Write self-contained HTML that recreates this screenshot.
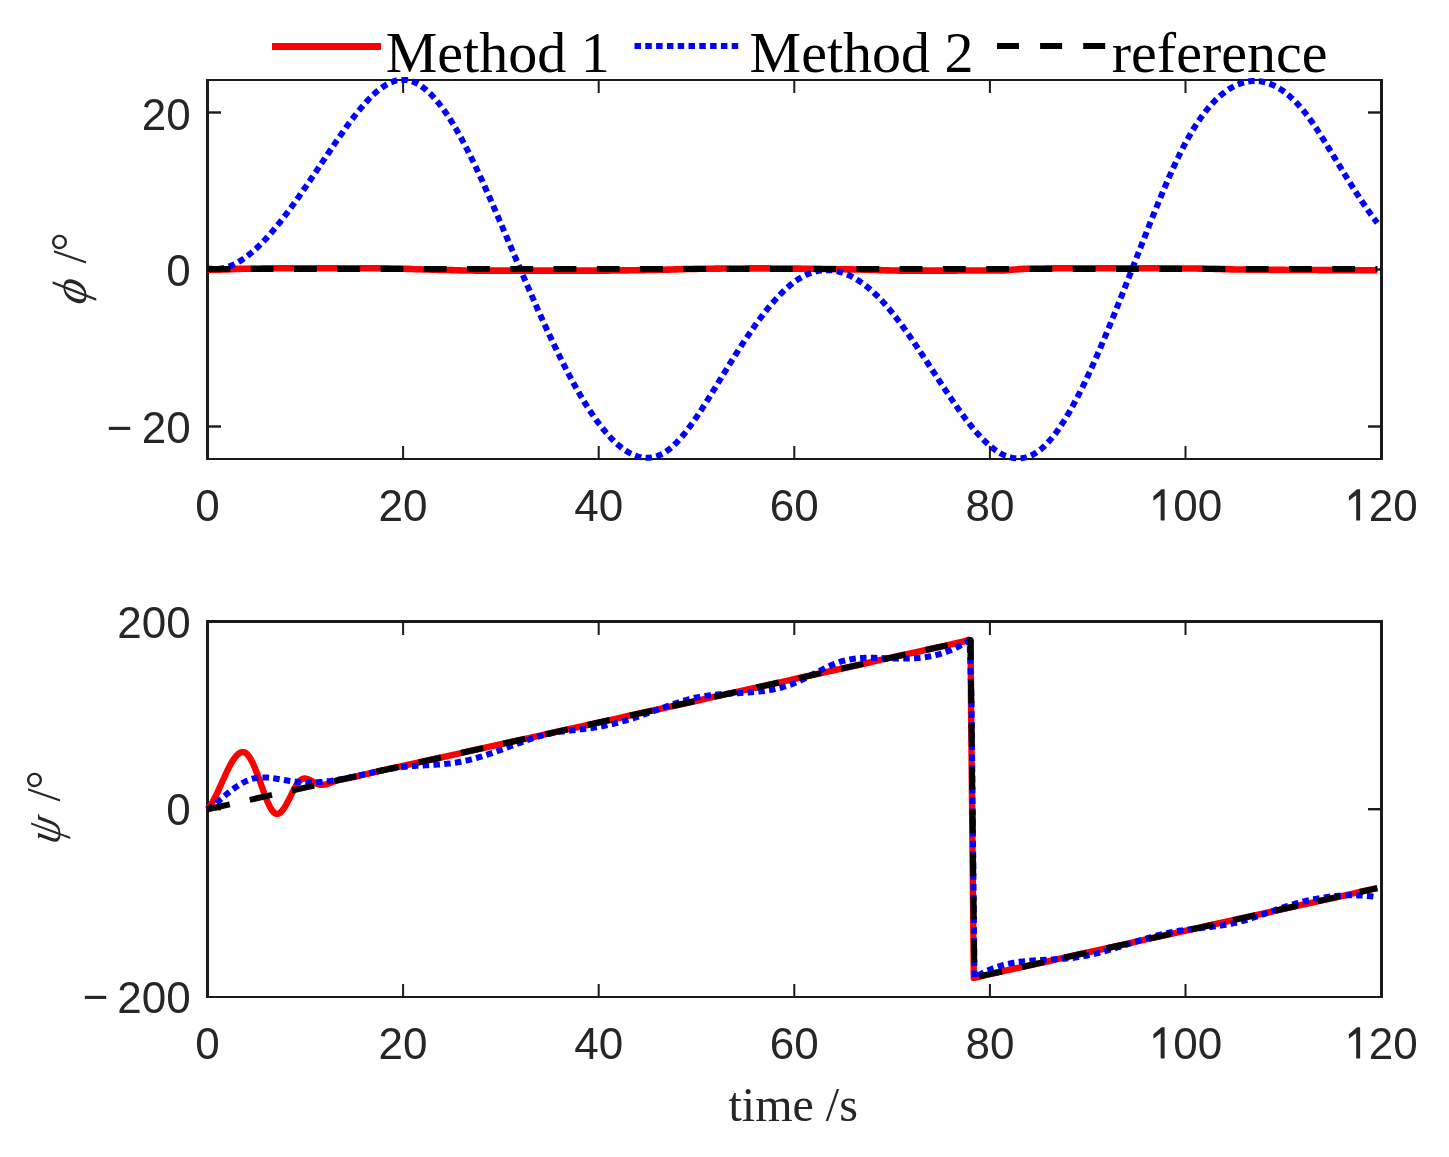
<!DOCTYPE html>
<html><head><meta charset="utf-8"><title>plot</title>
<style>
html,body{margin:0;padding:0;background:#ffffff;}
body{width:1449px;height:1157px;overflow:hidden;position:relative;}
svg{position:absolute;left:0;top:0;display:block;will-change:transform;}
.tk{font-family:"Liberation Sans",sans-serif;font-size:44px;fill:#262626;}
.lg{font-family:"Liberation Serif",serif;font-size:58px;fill:#000000;}
.lb{font-family:"Liberation Serif",serif;font-size:48px;fill:#262626;}
</style></head>
<body>
<svg width="1449" height="1157" viewBox="0 0 1449 1157">
<rect x="0" y="0" width="1449" height="1157" fill="#ffffff"/>
<defs>
<clipPath id="c1"><rect x="203" y="76" width="1183" height="387"/></clipPath>
<clipPath id="c2"><rect x="203" y="617" width="1183" height="384"/></clipPath>
</defs>

<!-- ===== TOP AXES FRAME ===== -->
<g fill="#1a1a1a">
<rect x="206" y="79" width="3" height="381"/>
<rect x="1380" y="79" width="3" height="381"/>
<rect x="206" y="79" width="1177" height="2"/>
<rect x="206" y="458" width="1177" height="2"/>
<!-- x ticks bottom -->
<rect x="402.1" y="446" width="2" height="12"/>
<rect x="597.7" y="446" width="2" height="12"/>
<rect x="793.3" y="446" width="2" height="12"/>
<rect x="988.9" y="446" width="2" height="12"/>
<rect x="1184.5" y="446" width="2" height="12"/>
<!-- x ticks top -->
<rect x="402.1" y="81" width="2" height="12"/>
<rect x="597.7" y="81" width="2" height="12"/>
<rect x="793.3" y="81" width="2" height="12"/>
<rect x="988.9" y="81" width="2" height="12"/>
<rect x="1184.5" y="81" width="2" height="12"/>
<!-- y ticks left -->
<rect x="209" y="111.3" width="12" height="2.4"/>
<rect x="209" y="268.3" width="12" height="2.4"/>
<rect x="209" y="425.3" width="12" height="2.4"/>
<!-- y ticks right -->
<rect x="1368" y="111.3" width="12" height="2.4"/>
<rect x="1368" y="268.3" width="12" height="2.4"/>
<rect x="1368" y="425.3" width="12" height="2.4"/>
</g>

<!-- ===== BOTTOM AXES FRAME ===== -->
<g fill="#1a1a1a">
<rect x="206" y="620" width="3" height="378"/>
<rect x="1380" y="620" width="3" height="378"/>
<rect x="206" y="620" width="1177" height="3"/>
<rect x="206" y="996" width="1177" height="2"/>
<rect x="402.1" y="984" width="2" height="12"/>
<rect x="597.7" y="984" width="2" height="12"/>
<rect x="793.3" y="984" width="2" height="12"/>
<rect x="988.9" y="984" width="2" height="12"/>
<rect x="1184.5" y="984" width="2" height="12"/>
<rect x="402.1" y="623" width="2" height="12"/>
<rect x="597.7" y="623" width="2" height="12"/>
<rect x="793.3" y="623" width="2" height="12"/>
<rect x="988.9" y="623" width="2" height="12"/>
<rect x="1184.5" y="623" width="2" height="12"/>
<rect x="209" y="808" width="12" height="2.4"/>
<rect x="1368" y="808" width="12" height="2.4"/>
</g>

<!-- ===== TOP AXES DATA ===== -->
<g clip-path="url(#c1)" fill="none" stroke-linejoin="round">
<path d="M207.50,269.80 L211.50,269.77 L215.50,269.71 L219.50,269.63 L223.50,269.54 L227.50,269.42 L231.50,269.25 L235.50,269.06 L239.50,268.91 L243.50,268.81 L247.50,268.71 L251.50,268.61 L255.50,268.52 L259.50,268.43 L263.50,268.36 L267.50,268.29 L271.50,268.24 L275.50,268.21 L279.50,268.20 L283.50,268.20 L287.50,268.20 L291.50,268.20 L295.50,268.20 L299.50,268.20 L303.50,268.20 L307.50,268.20 L311.50,268.20 L315.50,268.20 L319.50,268.21 L323.50,268.21 L327.50,268.21 L331.50,268.22 L335.50,268.22 L339.50,268.22 L343.50,268.23 L347.50,268.23 L351.50,268.24 L355.50,268.25 L359.50,268.25 L363.50,268.26 L367.50,268.27 L371.50,268.28 L375.50,268.29 L379.50,268.30 L383.50,268.32 L387.50,268.37 L391.50,268.45 L395.50,268.54 L399.50,268.65 L403.50,268.78 L407.50,268.91 L411.50,269.04 L415.50,269.18 L419.50,269.31 L423.50,269.43 L427.50,269.54 L431.50,269.63 L435.50,269.73 L439.50,269.84 L443.50,269.94 L447.50,270.05 L451.50,270.15 L455.50,270.25 L459.50,270.35 L463.50,270.43 L467.50,270.50 L471.50,270.55 L475.50,270.59 L479.50,270.60 L483.50,270.60 L487.50,270.60 L491.50,270.60 L495.50,270.60 L499.50,270.60 L503.50,270.60 L507.50,270.60 L511.50,270.60 L515.50,270.60 L519.50,270.60 L523.50,270.60 L527.50,270.60 L531.50,270.60 L535.50,270.60 L539.50,270.60 L543.50,270.60 L547.50,270.60 L551.50,270.60 L555.50,270.60 L559.50,270.60 L563.50,270.60 L567.50,270.60 L571.50,270.60 L575.50,270.60 L579.50,270.60 L583.50,270.60 L587.50,270.60 L591.50,270.60 L595.50,270.60 L599.50,270.60 L603.50,270.60 L607.50,270.58 L611.50,270.55 L615.50,270.52 L619.50,270.47 L623.50,270.42 L627.50,270.36 L631.50,270.30 L635.50,270.24 L639.50,270.17 L643.50,270.11 L647.50,270.04 L651.50,269.97 L655.50,269.90 L659.50,269.80 L663.50,269.70 L667.50,269.59 L671.50,269.47 L675.50,269.35 L679.50,269.24 L683.50,269.13 L687.50,269.02 L691.50,268.94 L695.50,268.86 L699.50,268.81 L703.50,268.76 L707.50,268.72 L711.50,268.68 L715.50,268.64 L719.50,268.61 L723.50,268.57 L727.50,268.54 L731.50,268.51 L735.50,268.48 L739.50,268.46 L743.50,268.44 L747.50,268.42 L751.50,268.41 L755.50,268.40 L759.50,268.40 L763.50,268.40 L767.50,268.41 L771.50,268.43 L775.50,268.45 L779.50,268.47 L783.50,268.51 L787.50,268.54 L791.50,268.58 L795.50,268.62 L799.50,268.66 L803.50,268.71 L807.50,268.75 L811.50,268.80 L815.50,268.85 L819.50,268.89 L823.50,268.94 L827.50,269.00 L831.50,269.05 L835.50,269.12 L839.50,269.19 L843.50,269.26 L847.50,269.33 L851.50,269.41 L855.50,269.49 L859.50,269.57 L863.50,269.66 L867.50,269.75 L871.50,269.84 L875.50,269.95 L879.50,270.09 L883.50,270.23 L887.50,270.37 L891.50,270.48 L895.50,270.56 L899.50,270.60 L903.50,270.60 L907.50,270.60 L911.50,270.60 L915.50,270.60 L919.50,270.60 L923.50,270.60 L927.50,270.59 L931.50,270.59 L935.50,270.59 L939.50,270.59 L943.50,270.59 L947.50,270.58 L951.50,270.58 L955.50,270.58 L959.50,270.57 L963.50,270.57 L967.50,270.56 L971.50,270.56 L975.50,270.55 L979.50,270.54 L983.50,270.54 L987.50,270.53 L991.50,270.52 L995.50,270.51 L999.50,270.50 L1003.50,270.41 L1007.50,270.16 L1011.50,269.81 L1015.50,269.43 L1019.50,269.09 L1023.50,268.85 L1027.50,268.74 L1031.50,268.65 L1035.50,268.57 L1039.50,268.49 L1043.50,268.43 L1047.50,268.38 L1051.50,268.34 L1055.50,268.31 L1059.50,268.30 L1063.50,268.30 L1067.50,268.30 L1071.50,268.30 L1075.50,268.30 L1079.50,268.30 L1083.50,268.30 L1087.50,268.30 L1091.50,268.30 L1095.50,268.30 L1099.50,268.30 L1103.50,268.30 L1107.50,268.30 L1111.50,268.30 L1115.50,268.30 L1119.50,268.30 L1123.50,268.30 L1127.50,268.30 L1131.50,268.30 L1135.50,268.30 L1139.50,268.30 L1143.50,268.30 L1147.50,268.30 L1151.50,268.30 L1155.50,268.30 L1159.50,268.31 L1163.50,268.33 L1167.50,268.35 L1171.50,268.37 L1175.50,268.39 L1179.50,268.42 L1183.50,268.45 L1187.50,268.49 L1191.50,268.52 L1195.50,268.56 L1199.50,268.60 L1203.50,268.64 L1207.50,268.72 L1211.50,268.81 L1215.50,268.91 L1219.50,269.02 L1223.50,269.13 L1227.50,269.24 L1231.50,269.34 L1235.50,269.43 L1239.50,269.49 L1243.50,269.54 L1247.50,269.59 L1251.50,269.64 L1255.50,269.68 L1259.50,269.72 L1263.50,269.76 L1267.50,269.79 L1271.50,269.83 L1275.50,269.86 L1279.50,269.89 L1283.50,269.91 L1287.50,269.94 L1291.50,269.96 L1295.50,269.98 L1299.50,270.00 L1303.50,270.01 L1307.50,270.03 L1311.50,270.05 L1315.50,270.06 L1319.50,270.08 L1323.50,270.09 L1327.50,270.10 L1331.50,270.12 L1335.50,270.13 L1339.50,270.14 L1343.50,270.15 L1347.50,270.16 L1351.50,270.17 L1355.50,270.18 L1359.50,270.19 L1363.50,270.19 L1367.50,270.20 L1371.50,270.20 L1375.50,270.20 L1377.30,270.20" stroke="#ff0000" stroke-width="6.6"/>
<path d="M207.50,268.16 L208.50,268.37 L209.50,268.55 L210.50,268.70 L211.50,268.82 L212.50,268.92 L213.50,268.98 L214.50,269.01 L215.50,269.02 L216.50,269.00 L217.50,268.95 L218.50,268.88 L219.50,268.77 L220.50,268.64 L221.50,268.49 L222.50,268.30 L223.50,268.09 L224.50,267.86 L225.50,267.60 L226.50,267.31 L227.50,267.00 L228.50,266.66 L229.50,266.30 L230.50,265.92 L231.50,265.51 L232.50,265.08 L233.50,264.62 L234.50,264.14 L235.50,263.64 L236.50,263.11 L237.50,262.56 L238.50,261.99 L239.50,261.40 L240.50,260.79 L241.50,260.15 L242.50,259.50 L243.50,258.82 L244.50,258.12 L245.50,257.41 L246.50,256.67 L247.50,255.91 L248.50,255.13 L249.50,254.34 L250.50,253.52 L251.50,252.69 L252.50,251.83 L253.50,250.96 L254.50,250.07 L255.50,249.17 L256.50,248.24 L257.50,247.30 L258.50,246.34 L259.50,245.37 L260.50,244.38 L261.50,243.37 L262.50,242.35 L263.50,241.31 L264.50,240.25 L265.50,239.18 L266.50,238.10 L267.50,237.00 L268.50,235.89 L269.50,234.76 L270.50,233.62 L271.50,232.47 L272.50,231.30 L273.50,230.12 L274.50,228.93 L275.50,227.72 L276.50,226.50 L277.50,225.27 L278.50,224.03 L279.50,222.78 L280.50,221.52 L281.50,220.24 L282.50,218.96 L283.50,217.66 L284.50,216.36 L285.50,215.04 L286.50,213.72 L287.50,212.38 L288.50,211.04 L289.50,209.69 L290.50,208.33 L291.50,206.96 L292.50,205.58 L293.50,204.20 L294.50,202.81 L295.50,201.41 L296.50,200.00 L297.50,198.59 L298.50,197.17 L299.50,195.75 L300.50,194.32 L301.50,192.88 L302.50,191.44 L303.50,190.00 L304.50,188.54 L305.50,187.09 L306.50,185.63 L307.50,184.17 L308.50,182.70 L309.50,181.23 L310.50,179.75 L311.50,178.28 L312.50,176.80 L313.50,175.31 L314.50,173.83 L315.50,172.34 L316.50,170.85 L317.50,169.37 L318.50,167.88 L319.50,166.38 L320.50,164.89 L321.50,163.40 L322.50,161.91 L323.50,160.42 L324.50,158.93 L325.50,157.43 L326.50,155.95 L327.50,154.46 L328.50,152.97 L329.50,151.49 L330.50,150.00 L331.50,148.52 L332.50,147.04 L333.50,145.57 L334.50,144.10 L335.50,142.63 L336.50,141.16 L337.50,139.70 L338.50,138.25 L339.50,136.80 L340.50,135.36 L341.50,133.92 L342.50,132.49 L343.50,131.07 L344.50,129.65 L345.50,128.25 L346.50,126.85 L347.50,125.46 L348.50,124.09 L349.50,122.72 L350.50,121.37 L351.50,120.03 L352.50,118.70 L353.50,117.38 L354.50,116.07 L355.50,114.78 L356.50,113.51 L357.50,112.25 L358.50,111.00 L359.50,109.78 L360.50,108.56 L361.50,107.37 L362.50,106.19 L363.50,105.03 L364.50,103.89 L365.50,102.77 L366.50,101.67 L367.50,100.59 L368.50,99.53 L369.50,98.49 L370.50,97.47 L371.50,96.48 L372.50,95.51 L373.50,94.56 L374.50,93.64 L375.50,92.74 L376.50,91.86 L377.50,91.01 L378.50,90.19 L379.50,89.40 L380.50,88.63 L381.50,87.89 L382.50,87.17 L383.50,86.49 L384.50,85.83 L385.50,85.21 L386.50,84.62 L387.50,84.05 L388.50,83.52 L389.50,83.02 L390.50,82.55 L391.50,82.12 L392.50,81.72 L393.50,81.35 L394.50,81.02 L395.50,80.72 L396.50,80.46 L397.50,80.24 L398.50,80.05 L399.50,80.00 L400.50,80.00 L401.50,80.00 L402.50,80.00 L403.50,80.00 L404.50,80.00 L405.50,80.00 L406.50,80.00 L407.50,80.09 L408.50,80.29 L409.50,80.53 L410.50,80.80 L411.50,81.12 L412.50,81.47 L413.50,81.87 L414.50,82.29 L415.50,82.76 L416.50,83.26 L417.50,83.80 L418.50,84.37 L419.50,84.98 L420.50,85.63 L421.50,86.31 L422.50,87.03 L423.50,87.77 L424.50,88.56 L425.50,89.38 L426.50,90.23 L427.50,91.11 L428.50,92.03 L429.50,92.98 L430.50,93.96 L431.50,94.97 L432.50,96.02 L433.50,97.09 L434.50,98.20 L435.50,99.34 L436.50,100.51 L437.50,101.71 L438.50,102.94 L439.50,104.19 L440.50,105.48 L441.50,106.80 L442.50,108.14 L443.50,109.51 L444.50,110.92 L445.50,112.34 L446.50,113.80 L447.50,115.28 L448.50,116.79 L449.50,118.33 L450.50,119.89 L451.50,121.48 L452.50,123.09 L453.50,124.73 L454.50,126.39 L455.50,128.08 L456.50,129.79 L457.50,131.53 L458.50,133.29 L459.50,135.07 L460.50,136.88 L461.50,138.71 L462.50,140.56 L463.50,142.43 L464.50,144.33 L465.50,146.25 L466.50,148.18 L467.50,150.14 L468.50,152.12 L469.50,154.11 L470.50,156.13 L471.50,158.16 L472.50,160.21 L473.50,162.27 L474.50,164.36 L475.50,166.46 L476.50,168.57 L477.50,170.70 L478.50,172.85 L479.50,175.01 L480.50,177.18 L481.50,179.36 L482.50,181.56 L483.50,183.77 L484.50,185.99 L485.50,188.23 L486.50,190.47 L487.50,192.72 L488.50,194.99 L489.50,197.26 L490.50,199.54 L491.50,201.83 L492.50,204.12 L493.50,206.43 L494.50,208.73 L495.50,211.05 L496.50,213.37 L497.50,215.70 L498.50,218.03 L499.50,220.36 L500.50,222.70 L501.50,225.04 L502.50,227.38 L503.50,229.73 L504.50,232.08 L505.50,234.42 L506.50,236.77 L507.50,239.12 L508.50,241.47 L509.50,243.82 L510.50,246.17 L511.50,248.53 L512.50,250.88 L513.50,253.22 L514.50,255.57 L515.50,257.92 L516.50,260.26 L517.50,262.61 L518.50,264.95 L519.50,267.29 L520.50,269.63 L521.50,271.96 L522.50,274.29 L523.50,276.62 L524.50,278.94 L525.50,281.26 L526.50,283.58 L527.50,285.89 L528.50,288.20 L529.50,290.50 L530.50,292.80 L531.50,295.09 L532.50,297.37 L533.50,299.65 L534.50,301.93 L535.50,304.20 L536.50,306.46 L537.50,308.71 L538.50,310.96 L539.50,313.20 L540.50,315.43 L541.50,317.65 L542.50,319.87 L543.50,322.08 L544.50,324.28 L545.50,326.47 L546.50,328.65 L547.50,330.82 L548.50,332.98 L549.50,335.13 L550.50,337.27 L551.50,339.41 L552.50,341.53 L553.50,343.63 L554.50,345.73 L555.50,347.82 L556.50,349.89 L557.50,351.96 L558.50,354.01 L559.50,356.05 L560.50,358.07 L561.50,360.08 L562.50,362.08 L563.50,364.07 L564.50,366.04 L565.50,368.00 L566.50,369.94 L567.50,371.87 L568.50,373.78 L569.50,375.68 L570.50,377.57 L571.50,379.44 L572.50,381.29 L573.50,383.12 L574.50,384.94 L575.50,386.75 L576.50,388.53 L577.50,390.30 L578.50,392.06 L579.50,393.79 L580.50,395.51 L581.50,397.20 L582.50,398.88 L583.50,400.55 L584.50,402.19 L585.50,403.81 L586.50,405.42 L587.50,407.00 L588.50,408.57 L589.50,410.11 L590.50,411.63 L591.50,413.14 L592.50,414.62 L593.50,416.08 L594.50,417.52 L595.50,418.94 L596.50,420.34 L597.50,421.72 L598.50,423.07 L599.50,424.40 L600.50,425.71 L601.50,427.00 L602.50,428.26 L603.50,429.50 L604.50,430.72 L605.50,431.91 L606.50,433.08 L607.50,434.22 L608.50,435.34 L609.50,436.44 L610.50,437.51 L611.50,438.56 L612.50,439.58 L613.50,440.58 L614.50,441.55 L615.50,442.49 L616.50,443.41 L617.50,444.30 L618.50,445.17 L619.50,446.01 L620.50,446.82 L621.50,447.61 L622.50,448.36 L623.50,449.09 L624.50,449.80 L625.50,450.47 L626.50,451.12 L627.50,451.73 L628.50,452.32 L629.50,452.88 L630.50,453.41 L631.50,453.91 L632.50,454.39 L633.50,454.83 L634.50,455.24 L635.50,455.62 L636.50,455.97 L637.50,456.29 L638.50,456.58 L639.50,456.84 L640.50,457.07 L641.50,457.26 L642.50,457.43 L643.50,457.56 L644.50,457.66 L645.50,457.72 L646.50,457.76 L647.50,457.76 L648.50,457.73 L649.50,457.66 L650.50,457.56 L651.50,457.43 L652.50,457.26 L653.50,457.06 L654.50,456.83 L655.50,456.56 L656.50,456.25 L657.50,455.91 L658.50,455.54 L659.50,455.13 L660.50,454.68 L661.50,454.20 L662.50,453.68 L663.50,453.12 L664.50,452.53 L665.50,451.90 L666.50,451.23 L667.50,450.53 L668.50,449.79 L669.50,449.01 L670.50,448.20 L671.50,447.36 L672.50,446.48 L673.50,445.57 L674.50,444.62 L675.50,443.64 L676.50,442.64 L677.50,441.60 L678.50,440.53 L679.50,439.44 L680.50,438.31 L681.50,437.16 L682.50,435.99 L683.50,434.79 L684.50,433.56 L685.50,432.31 L686.50,431.03 L687.50,429.73 L688.50,428.41 L689.50,427.07 L690.50,425.71 L691.50,424.33 L692.50,422.93 L693.50,421.51 L694.50,420.08 L695.50,418.62 L696.50,417.15 L697.50,415.67 L698.50,414.17 L699.50,412.66 L700.50,411.13 L701.50,409.59 L702.50,408.04 L703.50,406.48 L704.50,404.91 L705.50,403.33 L706.50,401.74 L707.50,400.14 L708.50,398.54 L709.50,396.93 L710.50,395.31 L711.50,393.69 L712.50,392.06 L713.50,390.43 L714.50,388.80 L715.50,387.17 L716.50,385.53 L717.50,383.89 L718.50,382.26 L719.50,380.62 L720.50,378.99 L721.50,377.35 L722.50,375.72 L723.50,374.09 L724.50,372.47 L725.50,370.84 L726.50,369.22 L727.50,367.61 L728.50,365.99 L729.50,364.38 L730.50,362.78 L731.50,361.18 L732.50,359.58 L733.50,357.99 L734.50,356.41 L735.50,354.83 L736.50,353.25 L737.50,351.68 L738.50,350.12 L739.50,348.57 L740.50,347.02 L741.50,345.48 L742.50,343.95 L743.50,342.43 L744.50,340.91 L745.50,339.40 L746.50,337.90 L747.50,336.41 L748.50,334.93 L749.50,333.46 L750.50,332.00 L751.50,330.55 L752.50,329.11 L753.50,327.68 L754.50,326.26 L755.50,324.85 L756.50,323.46 L757.50,322.07 L758.50,320.70 L759.50,319.34 L760.50,318.00 L761.50,316.66 L762.50,315.34 L763.50,314.04 L764.50,312.74 L765.50,311.47 L766.50,310.20 L767.50,308.95 L768.50,307.72 L769.50,306.50 L770.50,305.30 L771.50,304.11 L772.50,302.94 L773.50,301.78 L774.50,300.64 L775.50,299.52 L776.50,298.42 L777.50,297.33 L778.50,296.26 L779.50,295.21 L780.50,294.18 L781.50,293.17 L782.50,292.17 L783.50,291.20 L784.50,290.24 L785.50,289.30 L786.50,288.39 L787.50,287.49 L788.50,286.62 L789.50,285.76 L790.50,284.93 L791.50,284.12 L792.50,283.33 L793.50,282.56 L794.50,281.82 L795.50,281.10 L796.50,280.40 L797.50,279.72 L798.50,279.07 L799.50,278.44 L800.50,277.83 L801.50,277.25 L802.50,276.69 L803.50,276.16 L804.50,275.65 L805.50,275.16 L806.50,274.69 L807.50,274.25 L808.50,273.83 L809.50,273.44 L810.50,273.07 L811.50,272.72 L812.50,272.39 L813.50,272.08 L814.50,271.80 L815.50,271.54 L816.50,271.30 L817.50,271.09 L818.50,270.90 L819.50,270.73 L820.50,270.58 L821.50,270.45 L822.50,270.35 L823.50,270.26 L824.50,270.20 L825.50,270.16 L826.50,270.15 L827.50,270.15 L828.50,270.18 L829.50,270.23 L830.50,270.29 L831.50,270.38 L832.50,270.50 L833.50,270.63 L834.50,270.78 L835.50,270.96 L836.50,271.15 L837.50,271.37 L838.50,271.60 L839.50,271.86 L840.50,272.14 L841.50,272.44 L842.50,272.76 L843.50,273.10 L844.50,273.46 L845.50,273.84 L846.50,274.24 L847.50,274.66 L848.50,275.10 L849.50,275.56 L850.50,276.04 L851.50,276.54 L852.50,277.06 L853.50,277.60 L854.50,278.16 L855.50,278.73 L856.50,279.33 L857.50,279.95 L858.50,280.58 L859.50,281.24 L860.50,281.91 L861.50,282.61 L862.50,283.32 L863.50,284.05 L864.50,284.80 L865.50,285.57 L866.50,286.36 L867.50,287.16 L868.50,287.99 L869.50,288.83 L870.50,289.69 L871.50,290.57 L872.50,291.47 L873.50,292.38 L874.50,293.32 L875.50,294.27 L876.50,295.24 L877.50,296.22 L878.50,297.23 L879.50,298.25 L880.50,299.29 L881.50,300.35 L882.50,301.42 L883.50,302.52 L884.50,303.63 L885.50,304.75 L886.50,305.90 L887.50,307.06 L888.50,308.23 L889.50,309.42 L890.50,310.63 L891.50,311.85 L892.50,313.08 L893.50,314.33 L894.50,315.59 L895.50,316.87 L896.50,318.16 L897.50,319.46 L898.50,320.77 L899.50,322.10 L900.50,323.44 L901.50,324.79 L902.50,326.15 L903.50,327.52 L904.50,328.90 L905.50,330.29 L906.50,331.69 L907.50,333.10 L908.50,334.52 L909.50,335.95 L910.50,337.38 L911.50,338.83 L912.50,340.28 L913.50,341.74 L914.50,343.20 L915.50,344.68 L916.50,346.16 L917.50,347.64 L918.50,349.13 L919.50,350.62 L920.50,352.12 L921.50,353.63 L922.50,355.14 L923.50,356.65 L924.50,358.17 L925.50,359.68 L926.50,361.21 L927.50,362.73 L928.50,364.26 L929.50,365.78 L930.50,367.31 L931.50,368.84 L932.50,370.38 L933.50,371.91 L934.50,373.44 L935.50,374.97 L936.50,376.50 L937.50,378.03 L938.50,379.56 L939.50,381.09 L940.50,382.61 L941.50,384.13 L942.50,385.65 L943.50,387.17 L944.50,388.68 L945.50,390.19 L946.50,391.69 L947.50,393.19 L948.50,394.68 L949.50,396.17 L950.50,397.65 L951.50,399.12 L952.50,400.59 L953.50,402.04 L954.50,403.49 L955.50,404.93 L956.50,406.37 L957.50,407.79 L958.50,409.20 L959.50,410.60 L960.50,411.99 L961.50,413.37 L962.50,414.73 L963.50,416.09 L964.50,417.43 L965.50,418.76 L966.50,420.07 L967.50,421.37 L968.50,422.65 L969.50,423.92 L970.50,425.18 L971.50,426.42 L972.50,427.64 L973.50,428.84 L974.50,430.03 L975.50,431.20 L976.50,432.35 L977.50,433.49 L978.50,434.60 L979.50,435.69 L980.50,436.77 L981.50,437.82 L982.50,438.85 L983.50,439.86 L984.50,440.85 L985.50,441.82 L986.50,442.76 L987.50,443.68 L988.50,444.58 L989.50,445.45 L990.50,446.30 L991.50,447.12 L992.50,447.92 L993.50,448.69 L994.50,449.44 L995.50,450.15 L996.50,450.84 L997.50,451.51 L998.50,452.14 L999.50,452.75 L1000.50,453.32 L1001.50,453.87 L1002.50,454.39 L1003.50,454.87 L1004.50,455.33 L1005.50,455.75 L1006.50,456.15 L1007.50,456.51 L1008.50,456.84 L1009.50,457.14 L1010.50,457.40 L1011.50,457.64 L1012.50,457.84 L1013.50,458.01 L1014.50,458.14 L1015.50,458.25 L1016.50,458.32 L1017.50,458.35 L1018.50,458.36 L1019.50,458.32 L1020.50,458.26 L1021.50,458.16 L1022.50,458.03 L1023.50,457.86 L1024.50,457.66 L1025.50,457.42 L1026.50,457.15 L1027.50,456.84 L1028.50,456.49 L1029.50,456.12 L1030.50,455.70 L1031.50,455.25 L1032.50,454.76 L1033.50,454.24 L1034.50,453.68 L1035.50,453.08 L1036.50,452.45 L1037.50,451.77 L1038.50,451.07 L1039.50,450.32 L1040.50,449.53 L1041.50,448.71 L1042.50,447.85 L1043.50,446.95 L1044.50,446.02 L1045.50,445.04 L1046.50,444.03 L1047.50,442.99 L1048.50,441.90 L1049.50,440.79 L1050.50,439.63 L1051.50,438.45 L1052.50,437.23 L1053.50,435.97 L1054.50,434.68 L1055.50,433.36 L1056.50,432.01 L1057.50,430.63 L1058.50,429.21 L1059.50,427.76 L1060.50,426.29 L1061.50,424.78 L1062.50,423.24 L1063.50,421.68 L1064.50,420.09 L1065.50,418.46 L1066.50,416.82 L1067.50,415.14 L1068.50,413.44 L1069.50,411.71 L1070.50,409.95 L1071.50,408.17 L1072.50,406.37 L1073.50,404.54 L1074.50,402.69 L1075.50,400.81 L1076.50,398.91 L1077.50,396.99 L1078.50,395.04 L1079.50,393.08 L1080.50,391.09 L1081.50,389.08 L1082.50,387.06 L1083.50,385.01 L1084.50,382.94 L1085.50,380.85 L1086.50,378.75 L1087.50,376.62 L1088.50,374.48 L1089.50,372.32 L1090.50,370.14 L1091.50,367.95 L1092.50,365.73 L1093.50,363.51 L1094.50,361.26 L1095.50,359.00 L1096.50,356.73 L1097.50,354.44 L1098.50,352.14 L1099.50,349.82 L1100.50,347.49 L1101.50,345.15 L1102.50,342.79 L1103.50,340.42 L1104.50,338.04 L1105.50,335.65 L1106.50,333.24 L1107.50,330.83 L1108.50,328.40 L1109.50,325.97 L1110.50,323.52 L1111.50,321.07 L1112.50,318.60 L1113.50,316.13 L1114.50,313.65 L1115.50,311.17 L1116.50,308.67 L1117.50,306.17 L1118.50,303.66 L1119.50,301.14 L1120.50,298.62 L1121.50,296.10 L1122.50,293.57 L1123.50,291.03 L1124.50,288.49 L1125.50,285.95 L1126.50,283.40 L1127.50,280.85 L1128.50,278.29 L1129.50,275.74 L1130.50,273.18 L1131.50,270.62 L1132.50,268.06 L1133.50,265.50 L1134.50,262.93 L1135.50,260.37 L1136.50,257.81 L1137.50,255.25 L1138.50,252.69 L1139.50,250.13 L1140.50,247.57 L1141.50,245.02 L1142.50,242.46 L1143.50,239.92 L1144.50,237.37 L1145.50,234.83 L1146.50,232.29 L1147.50,229.76 L1148.50,227.23 L1149.50,224.70 L1150.50,222.19 L1151.50,219.68 L1152.50,217.17 L1153.50,214.67 L1154.50,212.18 L1155.50,209.70 L1156.50,207.23 L1157.50,204.77 L1158.50,202.32 L1159.50,199.88 L1160.50,197.45 L1161.50,195.04 L1162.50,192.64 L1163.50,190.25 L1164.50,187.88 L1165.50,185.53 L1166.50,183.19 L1167.50,180.87 L1168.50,178.57 L1169.50,176.28 L1170.50,174.02 L1171.50,171.77 L1172.50,169.55 L1173.50,167.35 L1174.50,165.17 L1175.50,163.01 L1176.50,160.88 L1177.50,158.77 L1178.50,156.69 L1179.50,154.63 L1180.50,152.61 L1181.50,150.60 L1182.50,148.63 L1183.50,146.68 L1184.50,144.77 L1185.50,142.88 L1186.50,141.03 L1187.50,139.21 L1188.50,137.41 L1189.50,135.65 L1190.50,133.92 L1191.50,132.22 L1192.50,130.55 L1193.50,128.91 L1194.50,127.30 L1195.50,125.72 L1196.50,124.16 L1197.50,122.64 L1198.50,121.15 L1199.50,119.69 L1200.50,118.25 L1201.50,116.85 L1202.50,115.47 L1203.50,114.12 L1204.50,112.81 L1205.50,111.52 L1206.50,110.26 L1207.50,109.02 L1208.50,107.82 L1209.50,106.64 L1210.50,105.49 L1211.50,104.37 L1212.50,103.28 L1213.50,102.21 L1214.50,101.18 L1215.50,100.17 L1216.50,99.18 L1217.50,98.23 L1218.50,97.30 L1219.50,96.40 L1220.50,95.52 L1221.50,94.67 L1222.50,93.85 L1223.50,93.06 L1224.50,92.29 L1225.50,91.54 L1226.50,90.83 L1227.50,90.14 L1228.50,89.47 L1229.50,88.83 L1230.50,88.22 L1231.50,87.63 L1232.50,87.06 L1233.50,86.53 L1234.50,86.01 L1235.50,85.53 L1236.50,85.06 L1237.50,84.62 L1238.50,84.21 L1239.50,83.82 L1240.50,83.46 L1241.50,83.12 L1242.50,82.80 L1243.50,82.51 L1244.50,82.24 L1245.50,82.00 L1246.50,81.79 L1247.50,81.60 L1248.50,81.43 L1249.50,81.29 L1250.50,81.17 L1251.50,81.08 L1252.50,81.01 L1253.50,80.97 L1254.50,80.95 L1255.50,80.96 L1256.50,80.99 L1257.50,81.04 L1258.50,81.12 L1259.50,81.23 L1260.50,81.36 L1261.50,81.52 L1262.50,81.70 L1263.50,81.91 L1264.50,82.14 L1265.50,82.39 L1266.50,82.67 L1267.50,82.98 L1268.50,83.31 L1269.50,83.67 L1270.50,84.05 L1271.50,84.45 L1272.50,84.88 L1273.50,85.34 L1274.50,85.82 L1275.50,86.33 L1276.50,86.86 L1277.50,87.41 L1278.50,88.00 L1279.50,88.60 L1280.50,89.23 L1281.50,89.89 L1282.50,90.57 L1283.50,91.28 L1284.50,92.01 L1285.50,92.77 L1286.50,93.55 L1287.50,94.36 L1288.50,95.20 L1289.50,96.06 L1290.50,96.94 L1291.50,97.85 L1292.50,98.78 L1293.50,99.74 L1294.50,100.73 L1295.50,101.74 L1296.50,102.77 L1297.50,103.84 L1298.50,104.92 L1299.50,106.03 L1300.50,107.17 L1301.50,108.33 L1302.50,109.52 L1303.50,110.74 L1304.50,111.98 L1305.50,113.24 L1306.50,114.53 L1307.50,115.85 L1308.50,117.19 L1309.50,118.55 L1310.50,119.94 L1311.50,121.35 L1312.50,122.78 L1313.50,124.23 L1314.50,125.71 L1315.50,127.19 L1316.50,128.70 L1317.50,130.22 L1318.50,131.76 L1319.50,133.31 L1320.50,134.88 L1321.50,136.46 L1322.50,138.05 L1323.50,139.64 L1324.50,141.25 L1325.50,142.87 L1326.50,144.49 L1327.50,146.12 L1328.50,147.75 L1329.50,149.39 L1330.50,151.03 L1331.50,152.67 L1332.50,154.32 L1333.50,155.96 L1334.50,157.61 L1335.50,159.25 L1336.50,160.90 L1337.50,162.54 L1338.50,164.19 L1339.50,165.83 L1340.50,167.47 L1341.50,169.10 L1342.50,170.74 L1343.50,172.37 L1344.50,174.00 L1345.50,175.62 L1346.50,177.24 L1347.50,178.85 L1348.50,180.46 L1349.50,182.06 L1350.50,183.66 L1351.50,185.25 L1352.50,186.84 L1353.50,188.41 L1354.50,189.98 L1355.50,191.55 L1356.50,193.10 L1357.50,194.64 L1358.50,196.18 L1359.50,197.71 L1360.50,199.22 L1361.50,200.73 L1362.50,202.22 L1363.50,203.71 L1364.50,205.18 L1365.50,206.64 L1366.50,208.09 L1367.50,209.52 L1368.50,210.95 L1369.50,212.36 L1370.50,213.75 L1371.50,215.13 L1372.50,216.50 L1373.50,217.85 L1374.50,219.19 L1375.50,220.51 L1376.50,221.81 L1377.30,222.84" stroke="#0000ff" stroke-width="6" stroke-dasharray="6.5 4.3"/>
<path d="M207.5,268.9 L1377.3,268.9" stroke="#000000" stroke-width="6" stroke-dasharray="22.8 20.46"/>
</g>

<!-- ===== BOTTOM AXES DATA ===== -->
<g clip-path="url(#c2)" fill="none" stroke-linejoin="round">
<path d="M207.50,809.20 L208.50,808.04 L209.50,806.74 L210.50,805.30 L211.50,803.73 L212.50,802.04 L213.50,800.25 L214.50,798.37 L215.50,796.40 L216.50,794.36 L217.50,792.26 L218.50,790.11 L219.50,787.92 L220.50,785.71 L221.50,783.48 L222.50,781.25 L223.50,779.02 L224.50,776.81 L225.50,774.63 L226.50,772.48 L227.50,770.39 L228.50,768.36 L229.50,766.41 L230.50,764.54 L231.50,762.76 L232.50,761.09 L233.50,759.54 L234.50,758.10 L235.50,756.80 L236.50,755.64 L237.50,754.62 L238.50,753.77 L239.50,753.08 L240.50,752.57 L241.50,752.24 L242.50,752.10 L243.50,752.17 L244.50,752.44 L245.50,752.94 L246.50,753.67 L247.50,754.63 L248.50,755.82 L249.50,757.24 L250.50,758.85 L251.50,760.66 L252.50,762.63 L253.50,764.77 L254.50,767.04 L255.50,769.44 L256.50,771.95 L257.50,774.56 L258.50,777.24 L259.50,779.99 L260.50,782.78 L261.50,785.61 L262.50,788.44 L263.50,791.24 L264.50,794.00 L265.50,796.67 L266.50,799.24 L267.50,801.67 L268.50,803.94 L269.50,806.03 L270.50,807.90 L271.50,809.54 L272.50,810.94 L273.50,812.08 L274.50,812.95 L275.50,813.55 L276.50,813.85 L277.50,813.86 L278.50,813.61 L279.50,813.11 L280.50,812.38 L281.50,811.43 L282.50,810.29 L283.50,808.97 L284.50,807.49 L285.50,805.88 L286.50,804.14 L287.50,802.29 L288.50,800.36 L289.50,798.37 L290.50,796.34 L291.50,794.30 L292.50,792.27 L293.50,790.29 L294.50,788.39 L295.50,786.59 L296.50,784.91 L297.50,783.40 L298.50,782.07 L299.50,780.95 L300.50,780.06 L301.50,779.39 L302.50,778.93 L303.50,778.64 L304.50,778.53 L305.50,778.56 L306.50,778.72 L307.50,778.99 L308.50,779.36 L309.50,779.81 L310.50,780.32 L311.50,780.87 L312.50,781.44 L313.50,782.02 L314.50,782.59 L315.50,783.13 L316.50,783.62 L317.50,784.05 L318.50,784.39 L319.50,784.64 L320.50,784.80 L321.50,784.86 L322.50,784.85 L323.50,784.76 L324.50,784.61 L325.50,784.40 L326.50,784.14 L327.50,783.84 L328.50,783.51 L329.50,783.16 L330.50,782.78 L331.50,782.40 L332.50,782.02 L333.50,781.65 L334.50,781.30 L335.50,780.96 L336.50,780.66 L337.50,780.38 L338.50,780.12 L339.50,779.89 L340.50,779.66 L341.50,779.46 L342.50,779.26 L343.50,779.06 L344.50,778.87 L345.50,778.67 L346.50,778.47 L347.50,778.27 L348.50,778.07 L349.50,777.86 L350.50,777.65 L351.50,777.44 L352.50,777.22 L353.50,777.00 L354.50,776.78 L355.50,776.56 L356.50,776.34 L357.50,776.11 L358.50,775.88 L359.50,775.65 L360.50,775.42 L361.50,775.19 L362.50,774.96 L363.50,774.72 L364.50,774.49 L365.50,774.25 L366.50,774.01 L367.50,773.78 L368.50,773.54 L369.50,773.30 L370.50,773.06 L371.50,772.82 L372.50,772.58 L373.50,772.35 L374.50,772.11 L375.50,771.87 L376.50,771.63 L377.50,771.40 L378.50,771.16 L379.50,770.93 L380.50,770.69 L381.50,770.46 L382.50,770.23 L383.50,770.00 L384.50,769.77 L385.50,769.55 L386.50,769.33 L387.50,769.10 L388.50,768.88 L389.50,768.67 L390.50,768.45 L391.50,768.24 L392.50,768.03 L393.50,767.82 L394.50,767.62 L395.50,767.42 L396.50,767.22 L397.50,767.03 L398.50,766.84 L399.50,766.65 L404.00,765.67 L412.00,763.89 L420.00,762.12 L428.00,760.34 L436.00,758.57 L444.00,756.80 L452.00,755.02 L460.00,753.25 L468.00,751.47 L476.00,749.70 L484.00,747.92 L492.00,746.15 L500.00,744.38 L508.00,742.60 L516.00,740.83 L524.00,739.05 L532.00,737.28 L540.00,735.50 L548.00,733.73 L556.00,731.96 L564.00,730.18 L572.00,728.41 L580.00,726.63 L588.00,724.86 L596.00,723.08 L604.00,721.31 L612.00,719.53 L620.00,717.76 L628.00,715.99 L636.00,714.21 L644.00,712.44 L652.00,710.66 L660.00,708.89 L668.00,707.11 L676.00,705.34 L684.00,703.57 L692.00,701.79 L700.00,700.02 L708.00,698.24 L716.00,696.47 L724.00,694.69 L732.00,692.92 L740.00,691.15 L748.00,689.37 L756.00,687.60 L764.00,685.82 L772.00,684.05 L780.00,682.27 L788.00,680.50 L796.00,678.73 L804.00,676.95 L812.00,675.18 L820.00,673.40 L828.00,671.63 L836.00,669.85 L844.00,668.08 L852.00,666.30 L860.00,664.53 L868.00,662.76 L876.00,660.98 L884.00,659.21 L892.00,657.43 L900.00,655.66 L908.00,653.88 L916.00,652.11 L924.00,650.34 L932.00,648.56 L940.00,646.79 L948.00,645.01 L956.00,643.24 L964.00,641.46 L968.50,639.60 L970.60,640.50 L971.00,700.00 L973.80,977.90 L978.00,977.20 L985.00,975.25 L993.00,973.47 L1001.00,971.69 L1009.00,969.91 L1017.00,968.14 L1025.00,966.36 L1033.00,964.58 L1041.00,962.81 L1049.00,961.03 L1057.00,959.25 L1065.00,957.47 L1073.00,955.70 L1081.00,953.92 L1089.00,952.14 L1097.00,950.37 L1105.00,948.59 L1113.00,946.81 L1121.00,945.03 L1129.00,943.26 L1137.00,941.48 L1145.00,939.70 L1153.00,937.93 L1161.00,936.15 L1169.00,934.37 L1177.00,932.59 L1185.00,930.82 L1193.00,929.04 L1201.00,927.26 L1209.00,925.49 L1217.00,923.71 L1225.00,921.93 L1233.00,920.15 L1241.00,918.38 L1249.00,916.60 L1257.00,914.82 L1265.00,913.05 L1273.00,911.27 L1281.00,909.49 L1289.00,907.71 L1297.00,905.94 L1305.00,904.16 L1313.00,902.38 L1321.00,900.61 L1329.00,898.83 L1337.00,897.05 L1345.00,895.28 L1353.00,893.50 L1361.00,891.72 L1369.00,889.94 L1377.30,888.10" stroke="#ff0000" stroke-width="6.4"/>
<path d="M207.60,809.36 L209.10,808.33 L210.60,807.25 L212.10,806.12 L213.60,804.97 L215.10,803.78 L216.60,802.56 L218.10,801.33 L219.60,800.08 L221.10,798.83 L222.60,797.56 L224.10,796.30 L225.60,795.05 L227.10,793.81 L228.60,792.59 L230.10,791.39 L231.60,790.21 L233.10,789.07 L234.60,787.97 L236.10,786.91 L237.60,785.90 L239.10,784.94 L240.60,784.03 L242.10,783.16 L243.60,782.35 L245.10,781.60 L246.60,780.91 L248.10,780.27 L249.60,779.70 L251.10,779.19 L252.60,778.74 L254.10,778.36 L255.60,778.05 L257.10,777.81 L258.60,777.62 L260.10,777.49 L261.60,777.42 L263.10,777.39 L264.60,777.41 L266.10,777.47 L267.60,777.57 L269.10,777.70 L270.60,777.87 L272.10,778.06 L273.60,778.27 L275.10,778.50 L276.60,778.74 L278.10,779.00 L279.60,779.27 L281.10,779.53 L282.60,779.80 L284.10,780.06 L285.60,780.32 L287.10,780.56 L288.60,780.80 L290.10,781.01 L291.60,781.22 L293.10,781.41 L294.60,781.59 L296.10,781.75 L297.60,781.90 L299.10,782.04 L300.60,782.15 L302.10,782.25 L303.60,782.33 L305.10,782.40 L306.60,782.44 L308.10,782.47 L309.60,782.48 L311.10,782.47 L312.60,782.44 L314.10,782.39 L315.60,782.33 L317.10,782.26 L318.60,782.16 L320.10,782.05 L321.60,781.93 L323.10,781.79 L324.60,781.64 L326.10,781.48 L327.60,781.30 L329.10,781.11 L330.60,780.91 L332.10,780.70 L333.60,780.47 L335.10,780.24 L336.60,780.00 L338.10,779.75 L339.60,779.48 L341.10,779.21 L342.60,778.94 L344.10,778.65 L345.60,778.36 L347.10,778.06 L348.60,777.76 L350.10,777.45 L351.60,777.13 L353.10,776.81 L354.60,776.49 L356.10,776.17 L357.60,775.84 L359.10,775.51 L360.60,775.17 L362.10,774.84 L363.60,774.50 L365.10,774.17 L366.60,773.83 L368.10,773.49 L369.60,773.16 L371.10,772.83 L372.60,772.50 L374.10,772.17 L375.60,771.84 L377.10,771.52 L378.60,771.20 L380.10,770.89 L381.60,770.58 L383.10,770.27 L384.60,769.98 L386.10,769.68 L387.60,769.40 L389.10,769.12 L390.60,768.85 L392.10,768.59 L393.60,768.34 L395.10,768.10 L396.60,767.87 L398.10,767.64 L399.60,767.43 L401.10,767.23 L402.60,767.04 L404.10,766.87 L405.60,766.70 L407.10,766.55 L408.60,766.41 L410.10,766.28 L411.60,766.15 L413.10,766.04 L414.60,765.93 L416.10,765.82 L417.60,765.73 L419.10,765.64 L420.60,765.55 L422.10,765.46 L423.60,765.38 L425.10,765.30 L426.60,765.22 L428.10,765.14 L429.60,765.05 L431.10,764.97 L432.60,764.89 L434.10,764.80 L435.60,764.70 L437.10,764.60 L438.60,764.50 L440.10,764.39 L441.60,764.27 L443.10,764.15 L444.60,764.01 L446.10,763.87 L447.60,763.71 L449.10,763.55 L450.60,763.37 L452.10,763.17 L453.60,762.97 L455.10,762.75 L456.60,762.51 L458.10,762.26 L459.60,761.99 L461.10,761.71 L462.60,761.41 L464.10,761.09 L465.60,760.77 L467.10,760.42 L468.60,760.06 L470.10,759.69 L471.60,759.31 L473.10,758.91 L474.60,758.51 L476.10,758.09 L477.60,757.65 L479.10,757.21 L480.60,756.76 L482.10,756.30 L483.60,755.83 L485.10,755.35 L486.60,754.86 L488.10,754.36 L489.60,753.86 L491.10,753.34 L492.60,752.82 L494.10,752.30 L495.60,751.77 L497.10,751.23 L498.60,750.69 L500.10,750.14 L501.60,749.59 L503.10,749.03 L504.60,748.48 L506.10,747.92 L507.60,747.36 L509.10,746.79 L510.60,746.23 L512.10,745.67 L513.60,745.11 L515.10,744.55 L516.60,744.00 L518.10,743.44 L519.60,742.89 L521.10,742.35 L522.60,741.81 L524.10,741.28 L525.60,740.75 L527.10,740.23 L528.60,739.72 L530.10,739.22 L531.60,738.72 L533.10,738.24 L534.60,737.76 L536.10,737.30 L537.60,736.85 L539.10,736.41 L540.60,735.98 L542.10,735.57 L543.60,735.17 L545.10,734.79 L546.60,734.43 L548.10,734.08 L549.60,733.74 L551.10,733.43 L552.60,733.13 L554.10,732.85 L555.60,732.58 L557.10,732.33 L558.60,732.09 L560.10,731.86 L561.60,731.64 L563.10,731.44 L564.60,731.24 L566.10,731.05 L567.60,730.87 L569.10,730.69 L570.60,730.52 L572.10,730.35 L573.60,730.19 L575.10,730.02 L576.60,729.86 L578.10,729.70 L579.60,729.54 L581.10,729.37 L582.60,729.20 L584.10,729.03 L585.60,728.85 L587.10,728.66 L588.60,728.47 L590.10,728.27 L591.60,728.06 L593.10,727.84 L594.60,727.60 L596.10,727.36 L597.60,727.10 L599.10,726.84 L600.60,726.56 L602.10,726.27 L603.60,725.97 L605.10,725.66 L606.60,725.35 L608.10,725.02 L609.60,724.68 L611.10,724.33 L612.60,723.97 L614.10,723.60 L615.60,723.23 L617.10,722.84 L618.60,722.44 L620.10,722.04 L621.60,721.63 L623.10,721.21 L624.60,720.78 L626.10,720.34 L627.60,719.90 L629.10,719.45 L630.60,718.99 L632.10,718.52 L633.60,718.05 L635.10,717.57 L636.60,717.08 L638.10,716.58 L639.60,716.08 L641.10,715.58 L642.60,715.06 L644.10,714.54 L645.60,714.02 L647.10,713.49 L648.60,712.95 L650.10,712.41 L651.60,711.87 L653.10,711.32 L654.60,710.78 L656.10,710.23 L657.60,709.68 L659.10,709.13 L660.60,708.58 L662.10,708.03 L663.60,707.49 L665.10,706.95 L666.60,706.41 L668.10,705.87 L669.60,705.34 L671.10,704.82 L672.60,704.30 L674.10,703.79 L675.60,703.29 L677.10,702.79 L678.60,702.31 L680.10,701.83 L681.60,701.37 L683.10,700.91 L684.60,700.47 L686.10,700.04 L687.60,699.63 L689.10,699.22 L690.60,698.84 L692.10,698.46 L693.60,698.11 L695.10,697.77 L696.60,697.44 L698.10,697.14 L699.60,696.85 L701.10,696.58 L702.60,696.32 L704.10,696.08 L705.60,695.86 L707.10,695.65 L708.60,695.45 L710.10,695.26 L711.60,695.09 L713.10,694.92 L714.60,694.77 L716.10,694.62 L717.60,694.49 L719.10,694.36 L720.60,694.24 L722.10,694.13 L723.60,694.02 L725.10,693.92 L726.60,693.82 L728.10,693.73 L729.60,693.64 L731.10,693.56 L732.60,693.47 L734.10,693.39 L735.60,693.31 L737.10,693.23 L738.60,693.14 L740.10,693.06 L741.60,692.97 L743.10,692.88 L744.60,692.79 L746.10,692.69 L747.60,692.59 L749.10,692.48 L750.60,692.37 L752.10,692.25 L753.60,692.12 L755.10,691.98 L756.60,691.84 L758.10,691.68 L759.60,691.52 L761.10,691.34 L762.60,691.15 L764.10,690.95 L765.60,690.74 L767.10,690.51 L768.60,690.26 L770.10,690.01 L771.60,689.73 L773.10,689.44 L774.60,689.14 L776.10,688.81 L777.60,688.47 L779.10,688.10 L780.60,687.72 L782.10,687.31 L783.60,686.89 L785.10,686.44 L786.60,685.97 L788.10,685.48 L789.60,684.96 L791.10,684.41 L792.60,683.84 L794.10,683.25 L795.60,682.63 L797.10,681.99 L798.60,681.32 L800.10,680.64 L801.60,679.94 L803.10,679.22 L804.60,678.49 L806.10,677.74 L807.60,676.99 L809.10,676.23 L810.60,675.46 L812.10,674.69 L813.60,673.91 L815.10,673.14 L816.60,672.36 L818.10,671.59 L819.60,670.83 L821.10,670.07 L822.60,669.32 L824.10,668.58 L825.60,667.85 L827.10,667.14 L828.60,666.44 L830.10,665.77 L831.60,665.11 L833.10,664.47 L834.60,663.86 L836.10,663.28 L837.60,662.72 L839.10,662.19 L840.60,661.70 L842.10,661.24 L843.60,660.81 L845.10,660.42 L846.60,660.06 L848.10,659.73 L849.60,659.43 L851.10,659.17 L852.60,658.93 L854.10,658.71 L855.60,658.53 L857.10,658.36 L858.60,658.23 L860.10,658.11 L861.60,658.01 L863.10,657.93 L864.60,657.87 L866.10,657.83 L867.60,657.80 L869.10,657.79 L870.60,657.79 L872.10,657.80 L873.60,657.82 L875.10,657.85 L876.60,657.89 L878.10,657.93 L879.60,657.98 L881.10,658.03 L882.60,658.09 L884.10,658.15 L885.60,658.20 L887.10,658.26 L888.60,658.31 L890.10,658.37 L891.60,658.42 L893.10,658.46 L894.60,658.50 L896.10,658.54 L897.60,658.57 L899.10,658.60 L900.60,658.61 L902.10,658.62 L903.60,658.62 L905.10,658.61 L906.60,658.59 L908.10,658.56 L909.60,658.52 L911.10,658.47 L912.60,658.40 L914.10,658.32 L915.60,658.22 L917.10,658.11 L918.60,657.98 L920.10,657.84 L921.60,657.68 L923.10,657.49 L924.60,657.30 L926.10,657.08 L927.60,656.84 L929.10,656.58 L930.60,656.30 L932.10,655.99 L933.60,655.66 L935.10,655.31 L936.60,654.93 L938.10,654.53 L939.60,654.10 L941.10,653.65 L942.60,653.16 L944.10,652.66 L945.60,652.12 L947.10,651.57 L948.60,650.98 L950.10,650.38 L951.60,649.74 L953.10,649.08 L954.60,648.40 L956.10,647.70 L957.60,646.97 L959.10,646.21 L960.60,645.44 L962.10,644.64 L963.60,643.81 L965.10,642.97 L966.60,642.10 L968.10,641.21 L969.60,640.60 L971.50,700.00 L974.50,977.20 L975.00,977.35 L976.50,976.42 L978.00,975.53 L979.50,974.67 L981.00,973.84 L982.50,973.04 L984.00,972.28 L985.50,971.55 L987.00,970.85 L988.50,970.18 L990.00,969.54 L991.50,968.93 L993.00,968.35 L994.50,967.80 L996.00,967.27 L997.50,966.76 L999.00,966.28 L1000.50,965.83 L1002.00,965.40 L1003.50,964.99 L1005.00,964.61 L1006.50,964.24 L1008.00,963.90 L1009.50,963.57 L1011.00,963.27 L1012.50,962.98 L1014.00,962.71 L1015.50,962.46 L1017.00,962.22 L1018.50,962.00 L1020.00,961.79 L1021.50,961.60 L1023.00,961.42 L1024.50,961.25 L1026.00,961.09 L1027.50,960.95 L1029.00,960.81 L1030.50,960.69 L1032.00,960.57 L1033.50,960.46 L1035.00,960.36 L1036.50,960.26 L1038.00,960.17 L1039.50,960.08 L1041.00,960.00 L1042.50,959.92 L1044.00,959.85 L1045.50,959.78 L1047.00,959.70 L1048.50,959.63 L1050.00,959.56 L1051.50,959.48 L1053.00,959.41 L1054.50,959.33 L1056.00,959.25 L1057.50,959.16 L1059.00,959.07 L1060.50,958.97 L1062.00,958.87 L1063.50,958.76 L1065.00,958.65 L1066.50,958.52 L1068.00,958.38 L1069.50,958.24 L1071.00,958.08 L1072.50,957.91 L1074.00,957.73 L1075.50,957.54 L1077.00,957.33 L1078.50,957.11 L1080.00,956.88 L1081.50,956.63 L1083.00,956.36 L1084.50,956.08 L1086.00,955.79 L1087.50,955.49 L1089.00,955.17 L1090.50,954.85 L1092.00,954.51 L1093.50,954.16 L1095.00,953.80 L1096.50,953.43 L1098.00,953.05 L1099.50,952.66 L1101.00,952.27 L1102.50,951.86 L1104.00,951.45 L1105.50,951.03 L1107.00,950.61 L1108.50,950.18 L1110.00,949.74 L1111.50,949.29 L1113.00,948.84 L1114.50,948.39 L1116.00,947.93 L1117.50,947.47 L1119.00,947.01 L1120.50,946.54 L1122.00,946.07 L1123.50,945.60 L1125.00,945.13 L1126.50,944.65 L1128.00,944.18 L1129.50,943.70 L1131.00,943.23 L1132.50,942.76 L1134.00,942.28 L1135.50,941.81 L1137.00,941.34 L1138.50,940.88 L1140.00,940.41 L1141.50,939.95 L1143.00,939.50 L1144.50,939.04 L1146.00,938.60 L1147.50,938.15 L1149.00,937.72 L1150.50,937.29 L1152.00,936.86 L1153.50,936.45 L1155.00,936.04 L1156.50,935.63 L1158.00,935.24 L1159.50,934.85 L1161.00,934.48 L1162.50,934.11 L1164.00,933.76 L1165.50,933.41 L1167.00,933.07 L1168.50,932.75 L1170.00,932.44 L1171.50,932.14 L1173.00,931.85 L1174.50,931.57 L1176.00,931.31 L1177.50,931.06 L1179.00,930.82 L1180.50,930.59 L1182.00,930.37 L1183.50,930.15 L1185.00,929.95 L1186.50,929.75 L1188.00,929.56 L1189.50,929.37 L1191.00,929.19 L1192.50,929.01 L1194.00,928.84 L1195.50,928.67 L1197.00,928.50 L1198.50,928.34 L1200.00,928.17 L1201.50,928.01 L1203.00,927.84 L1204.50,927.67 L1206.00,927.51 L1207.50,927.34 L1209.00,927.16 L1210.50,926.99 L1212.00,926.80 L1213.50,926.62 L1215.00,926.42 L1216.50,926.22 L1218.00,926.02 L1219.50,925.80 L1221.00,925.58 L1222.50,925.35 L1224.00,925.10 L1225.50,924.85 L1227.00,924.59 L1228.50,924.31 L1230.00,924.02 L1231.50,923.72 L1233.00,923.40 L1234.50,923.07 L1236.00,922.72 L1237.50,922.36 L1239.00,921.98 L1240.50,921.59 L1242.00,921.18 L1243.50,920.76 L1245.00,920.32 L1246.50,919.88 L1248.00,919.42 L1249.50,918.96 L1251.00,918.48 L1252.50,917.99 L1254.00,917.50 L1255.50,917.00 L1257.00,916.49 L1258.50,915.98 L1260.00,915.46 L1261.50,914.94 L1263.00,914.42 L1264.50,913.89 L1266.00,913.36 L1267.50,912.83 L1269.00,912.30 L1270.50,911.76 L1272.00,911.23 L1273.50,910.71 L1275.00,910.18 L1276.50,909.66 L1278.00,909.14 L1279.50,908.62 L1281.00,908.12 L1282.50,907.61 L1284.00,907.12 L1285.50,906.63 L1287.00,906.16 L1288.50,905.69 L1290.00,905.23 L1291.50,904.78 L1293.00,904.33 L1294.50,903.90 L1296.00,903.48 L1297.50,903.07 L1299.00,902.66 L1300.50,902.27 L1302.00,901.89 L1303.50,901.51 L1305.00,901.15 L1306.50,900.79 L1308.00,900.45 L1309.50,900.12 L1311.00,899.79 L1312.50,899.48 L1314.00,899.18 L1315.50,898.89 L1317.00,898.61 L1318.50,898.34 L1320.00,898.08 L1321.50,897.83 L1323.00,897.59 L1324.50,897.37 L1326.00,897.15 L1327.50,896.95 L1329.00,896.76 L1330.50,896.58 L1332.00,896.41 L1333.50,896.25 L1335.00,896.11 L1336.50,895.97 L1338.00,895.85 L1339.50,895.74 L1341.00,895.64 L1342.50,895.56 L1344.00,895.48 L1345.50,895.42 L1347.00,895.37 L1348.50,895.34 L1350.00,895.31 L1351.50,895.30 L1353.00,895.31 L1354.50,895.32 L1356.00,895.35 L1357.50,895.39 L1359.00,895.44 L1360.50,895.51 L1362.00,895.59 L1363.50,895.68 L1365.00,895.79 L1366.50,895.91 L1368.00,896.04 L1369.50,896.19 L1371.00,896.35 L1372.50,896.53 L1374.00,896.72 L1375.50,896.92 L1377.30,897.18" stroke="#0000ff" stroke-width="6" stroke-dasharray="6.5 4.3"/>
<path d="M207.50,809.25 L970.60,640.00 L974.40,977.60 L1377.30,888.10" stroke="#000000" stroke-width="6" stroke-dasharray="22.8 20.46"/>
</g>

<!-- ===== TICK LABELS ===== -->
<g class="tk" text-anchor="middle">
<text x="207.5" y="520.5">0</text>
<text x="403.1" y="520.5">20</text>
<text x="598.7" y="520.5">40</text>
<text x="794.3" y="520.5">60</text>
<text x="989.9" y="520.5">80</text>
<path transform="translate(1148.79,520.5) scale(44.0,-44.0)" d="M0.27,0 L0.36,0 L0.36,0.71 L0.29,0.71 L0.105,0.55 L0.105,0.45 L0.27,0.575 Z"/><text x="1173.26" y="520.5" text-anchor="start">00</text>
<path transform="translate(1344.29,520.5) scale(44.0,-44.0)" d="M0.27,0 L0.36,0 L0.36,0.71 L0.29,0.71 L0.105,0.55 L0.105,0.45 L0.27,0.575 Z"/><text x="1368.76" y="520.5" text-anchor="start">20</text>
<text x="207.5" y="1058.5">0</text>
<text x="403.1" y="1058.5">20</text>
<text x="598.7" y="1058.5">40</text>
<text x="794.3" y="1058.5">60</text>
<text x="989.9" y="1058.5">80</text>
<path transform="translate(1148.79,1058.5) scale(44.0,-44.0)" d="M0.27,0 L0.36,0 L0.36,0.71 L0.29,0.71 L0.105,0.55 L0.105,0.45 L0.27,0.575 Z"/><text x="1173.26" y="1058.5" text-anchor="start">00</text>
<path transform="translate(1344.29,1058.5) scale(44.0,-44.0)" d="M0.27,0 L0.36,0 L0.36,0.71 L0.29,0.71 L0.105,0.55 L0.105,0.45 L0.27,0.575 Z"/><text x="1368.76" y="1058.5" text-anchor="start">20</text>
</g>
<g class="tk" text-anchor="end">
<text x="190.7" y="129.5">20</text>
<text x="190.7" y="286">0</text>
<text x="190.7" y="443.3">20</text>
<text x="190.7" y="637.5">200</text>
<text x="190.7" y="825.3">0</text>
<text x="190.7" y="1012.8">200</text>
</g>
<g class="tk">
<text x="106.8" y="443.3">&#8722;</text>
<text x="82.8" y="1012.3">&#8722;</text>
</g>

<!-- ===== AXIS LABELS ===== -->
<g class="lb">
<text font-style="italic" transform="translate(86,306) rotate(-90) skewX(-12)">&#981;</text>
<text transform="translate(85.5,263.5) rotate(-90)">/</text>
<text transform="translate(85,251.6) rotate(-90)">&#176;</text>
<text font-style="italic" transform="translate(59.5,845.5) rotate(-90) skewX(-12) scale(0.88,1)">&#968;</text>
<text transform="translate(60,801.4) rotate(-90)">/</text>
<text transform="translate(59.5,789.5) rotate(-90)">&#176;</text>
<text text-anchor="middle" x="793.2" y="1120.6">time /s</text>
</g>

<!-- ===== LEGEND ===== -->
<g fill="none">
<line x1="272" y1="46.4" x2="381" y2="46.4" stroke="#ff0000" stroke-width="7"/>
<line x1="634.5" y1="45.9" x2="740" y2="45.9" stroke="#0000ff" stroke-width="6" stroke-dasharray="6.5 4.3"/>
<line x1="997" y1="45.9" x2="1107" y2="45.9" stroke="#000000" stroke-width="6" stroke-dasharray="22 21.1"/>
</g>
<text class="lg" x="385.8" y="71.6">Method 1</text>
<text class="lg" x="749.6" y="71.6">Method 2</text>
<text class="lg" x="1111.8" y="71.6">reference</text>
</svg>
</body></html>
